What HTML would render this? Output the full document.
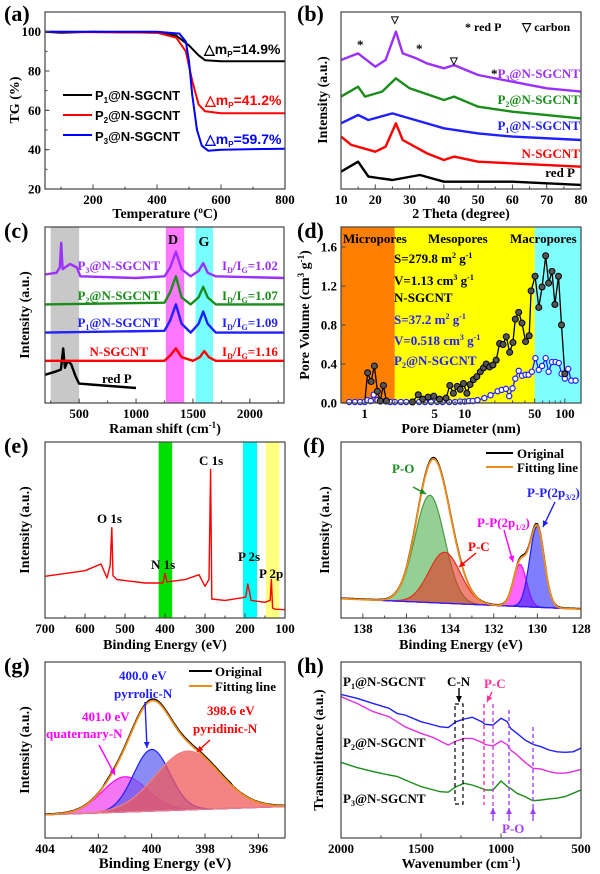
<!DOCTYPE html>
<html><head><meta charset="utf-8"><style>
html,body{margin:0;padding:0;background:#fff;}
svg{display:block;}
text{font-family:"Liberation Serif",serif;font-weight:bold;}
.s{font-family:"Liberation Sans",sans-serif;}
</style></head><body>
<svg id="fig" width="600" height="874" viewBox="0 0 600 874" xmlns="http://www.w3.org/2000/svg">
<g id="bg"></g>
<g id="marks"></g>
<g id="axes"></g>
<g id="labels" font-size="13">
<!-- panel labels -->
<text x="4" y="21" font-size="22">(a)</text>
<text x="297" y="21" font-size="22">(b)</text>
<text x="4" y="238" font-size="22">(c)</text>
<text x="297" y="238" font-size="22">(d)</text>
<text x="4" y="453" font-size="22">(e)</text>
<text x="303" y="453" font-size="22">(f)</text>
<text x="4" y="673" font-size="22">(g)</text>
<text x="297" y="673" font-size="22">(h)</text>
<!-- axis titles -->
<text x="165" y="218" text-anchor="middle" font-size="14">Temperature (<tspan font-size="9" dy="-5">o</tspan><tspan dy="5">C)</tspan></text>
<text transform="rotate(-90 19 100)" x="19" y="100" text-anchor="middle" font-size="14">TG (%)</text>
<text x="461" y="218" text-anchor="middle" font-size="14">2 Theta (degree)</text>
<text transform="rotate(-90 327 100)" x="327" y="100" text-anchor="middle" font-size="14">Intensity (a.u.)</text>
<text x="165" y="433" text-anchor="middle" font-size="14">Raman shift (cm<tspan font-size="9" dy="-5">-1</tspan><tspan dy="5">)</tspan></text>
<text transform="rotate(-90 29 315)" x="29" y="315" text-anchor="middle" font-size="14">Intensity (a.u.)</text>
<text x="461" y="433" text-anchor="middle" font-size="14">Pore Diameter (nm)</text>
<text transform="rotate(-90 309 315)" x="309" y="315" text-anchor="middle" font-size="14">Pore Volume (cm<tspan font-size="9" dy="-5">3</tspan><tspan dy="5"> g</tspan><tspan font-size="9" dy="-5">-1</tspan><tspan dy="5">)</tspan></text>
<text x="165" y="649" text-anchor="middle" font-size="14">Binding Energy (eV)</text>
<text transform="rotate(-90 29 530)" x="29" y="530" text-anchor="middle" font-size="14">Intensity (a.u.)</text>
<text x="461" y="649" text-anchor="middle" font-size="14">Binding Energy (eV)</text>
<text transform="rotate(-90 329 530)" x="329" y="530" text-anchor="middle" font-size="14">Intensity (a.u.)</text>
<text x="165" y="868" text-anchor="middle" font-size="15">Binding Energy (eV)</text>
<text transform="rotate(-90 29 750)" x="29" y="750" text-anchor="middle" font-size="14">Intensity (a.u.)</text>
<text x="461" y="868" text-anchor="middle" font-size="14">Wavenumber (cm<tspan font-size="9" dy="-5">-1</tspan><tspan dy="5">)</tspan></text>
<text transform="rotate(-90 323 750)" x="323" y="750" text-anchor="middle" font-size="14">Transmittance (a.u.)</text>

<!-- (a) legend + annotations -->
<g class="s" font-size="13" font-weight="bold">
<line x1="63" y1="95" x2="92" y2="95" stroke="#000" stroke-width="2"/>
<text x="95" y="100" class="s">P<tspan font-size="8" dy="3">1</tspan><tspan dy="-3">@N-SGCNT</tspan></text>
<line x1="63" y1="115" x2="92" y2="115" stroke="#f00" stroke-width="2"/>
<text x="95" y="120" class="s">P<tspan font-size="8" dy="3">2</tspan><tspan dy="-3">@N-SGCNT</tspan></text>
<line x1="63" y1="135" x2="92" y2="135" stroke="#00f" stroke-width="2"/>
<text x="95" y="141" class="s">P<tspan font-size="8" dy="3">3</tspan><tspan dy="-3">@N-SGCNT</tspan></text>
</g>
<text x="204" y="54" class="s" font-size="14" font-weight="normal" fill="#000">△m<tspan font-size="8" dy="3">P</tspan><tspan dy="-3">=14.9%</tspan></text>
<text x="205" y="105" class="s" font-size="14" font-weight="normal" fill="#f00">△m<tspan font-size="8" dy="3">P</tspan><tspan dy="-3">=41.2%</tspan></text>
<text x="205" y="144" class="s" font-size="14" font-weight="normal" fill="#00f">△m<tspan font-size="8" dy="3">P</tspan><tspan dy="-3">=59.7%</tspan></text>

<!-- (b) -->
<text x="465" y="31" font-size="12">* red P</text>
<text x="522" y="31" font-size="12">▽ carbon</text>
<text x="391" y="23" font-size="10" font-weight="normal">▽</text>
<text x="357" y="49" font-size="13">*</text>
<text x="416" y="53" font-size="13">*</text>
<text x="450" y="64" font-size="10" font-weight="normal">▽</text>
<text x="580" y="78" text-anchor="end" fill="#9b30ff"><tspan fill="#000">*</tspan>P<tspan font-size="8" dy="3">3</tspan><tspan dy="-3">@N-SGCNT</tspan></text>
<text x="580" y="104" text-anchor="end" fill="#1a8c1a">P<tspan font-size="8" dy="3">2</tspan><tspan dy="-3">@N-SGCNT</tspan></text>
<text x="580" y="130" text-anchor="end" fill="#1f1fff">P<tspan font-size="8" dy="3">1</tspan><tspan dy="-3">@N-SGCNT</tspan></text>
<text x="580" y="158" text-anchor="end" fill="#f00">N-SGCNT</text>
<text x="575" y="177" text-anchor="end">red P</text>

<!-- (c) -->
<text x="173" y="244" text-anchor="middle" font-size="14">D</text>
<text x="204" y="246" text-anchor="middle" font-size="14">G</text>
<text x="160" y="270" text-anchor="end" fill="#9b30ff">P<tspan font-size="8" dy="3">3</tspan><tspan dy="-3">@N-SGCNT</tspan></text>
<text x="160" y="300" text-anchor="end" fill="#1a8c1a">P<tspan font-size="8" dy="3">2</tspan><tspan dy="-3">@N-SGCNT</tspan></text>
<text x="160" y="327" text-anchor="end" fill="#1f1fff">P<tspan font-size="8" dy="3">1</tspan><tspan dy="-3">@N-SGCNT</tspan></text>
<text x="148" y="356" text-anchor="end" fill="#f00">N-SGCNT</text>
<text x="102" y="383">red P</text>
<text x="222" y="270" fill="#9b30ff">I<tspan font-size="8" dy="3">D</tspan><tspan dy="-3">/I</tspan><tspan font-size="8" dy="3">G</tspan><tspan dy="-3">=1.02</tspan></text>
<text x="222" y="300" fill="#1a8c1a">I<tspan font-size="8" dy="3">D</tspan><tspan dy="-3">/I</tspan><tspan font-size="8" dy="3">G</tspan><tspan dy="-3">=1.07</tspan></text>
<text x="222" y="327" fill="#1f1fff">I<tspan font-size="8" dy="3">D</tspan><tspan dy="-3">/I</tspan><tspan font-size="8" dy="3">G</tspan><tspan dy="-3">=1.09</tspan></text>
<text x="222" y="356" fill="#f00">I<tspan font-size="8" dy="3">D</tspan><tspan dy="-3">/I</tspan><tspan font-size="8" dy="3">G</tspan><tspan dy="-3">=1.16</tspan></text>

<!-- (d) -->
<text x="343" y="243">Micropores</text>
<text x="428" y="243">Mesopores</text>
<text x="510" y="243">Macropores</text>
<text x="394" y="263">S=279.8 m<tspan font-size="8" dy="-5">2</tspan><tspan dy="5"> g</tspan><tspan font-size="8" dy="-5">-1</tspan></text>
<text x="394" y="285">V=1.13 cm<tspan font-size="8" dy="-5">3</tspan><tspan dy="5"> g</tspan><tspan font-size="8" dy="-5">-1</tspan></text>
<text x="394" y="302">N-SGCNT</text>
<text x="394" y="324" fill="#1f1fff">S=37.2 m<tspan font-size="8" dy="-5">2</tspan><tspan dy="5"> g</tspan><tspan font-size="8" dy="-5">-1</tspan></text>
<text x="394" y="345" fill="#1f1fff">V=0.518 cm<tspan font-size="8" dy="-5">3</tspan><tspan dy="5"> g</tspan><tspan font-size="8" dy="-5">-1</tspan></text>
<text x="394" y="365" fill="#1f1fff">P<tspan font-size="8" dy="3">2</tspan><tspan dy="-3">@N-SGCNT</tspan></text>

<!-- (e) -->
<text x="97" y="523">O 1s</text>
<text x="151" y="569">N 1s</text>
<text x="199" y="465">C 1s</text>
<text x="238" y="561">P 2s</text>
<text x="259" y="578">P 2p</text>

<!-- (f) -->
<line x1="486" y1="453" x2="513" y2="453" stroke="#000" stroke-width="2"/>
<text x="517" y="458">Original</text>
<line x1="486" y1="467" x2="513" y2="467" stroke="#f08c1a" stroke-width="2"/>
<text x="517" y="472">Fitting line</text>
<text x="392" y="473" fill="#1a8c1a">P-O</text>
<text x="468" y="551" fill="#f00">P-C</text>
<text x="477" y="527" fill="#ff00ff">P-P(2p<tspan font-size="8" dy="3">1/2</tspan><tspan dy="-3">)</tspan></text>
<text x="527" y="497" fill="#1f1fff">P-P(2p<tspan font-size="8" dy="3">3/2</tspan><tspan dy="-3">)</tspan></text>

<!-- (g) -->
<line x1="189" y1="671" x2="212" y2="671" stroke="#000" stroke-width="2"/>
<text x="215" y="676">Original</text>
<line x1="189" y1="686" x2="212" y2="686" stroke="#f08c1a" stroke-width="2"/>
<text x="215" y="691">Fitting line</text>
<text x="119" y="680" fill="#1f1fff">400.0 eV</text>
<text x="114" y="698" fill="#1f1fff">pyrrolic-N</text>
<text x="207" y="715" fill="#f00">398.6 eV</text>
<text x="193" y="733" fill="#f00">pyridinic-N</text>
<text x="82" y="721" fill="#ff00ff">401.0 eV</text>
<text x="46" y="738" fill="#ff00ff">quaternary-N</text>

<!-- (h) -->
<text x="343" y="686">P<tspan font-size="8" dy="3">1</tspan><tspan dy="-3">@N-SGCNT</tspan></text>
<text x="343" y="747">P<tspan font-size="8" dy="3">2</tspan><tspan dy="-3">@N-SGCNT</tspan></text>
<text x="343" y="803">P<tspan font-size="8" dy="3">3</tspan><tspan dy="-3">@N-SGCNT</tspan></text>
<text x="447" y="686">C-N</text>
<text x="484" y="688" fill="#ff3399">P-C</text>
<text x="502" y="833" fill="#a040ff">P-O</text>
</g>
</svg>
<script>
// ---------- data ----------
// (a) TGA
const aTempBlack=[50,100,200,400,460,500,530,550,600,800];
const aTGBlack=[100,99.5,100,99.5,98,93,88,85.5,85,85];
const aTempRed=[50,400,460,490,510,530,550,600,800];
const aTGRed=[100,99.5,97,90,75,63,59.5,58.5,58.5];
const aTempBlue=[50,400,470,490,500,510,525,540,560,600,800];
const aTGBlue=[100,100,99,95,85,68,50,42,39.5,40,40.5];
// (b) XRD (arb. units 0-100)
const bTheta=[[10,15,18,25,33,40,60,80],[10,13,20,23,26,28,35,40,43,50,80],[10,15,18,25,30,40,50,60,80],[10,15,17,22,26,30,40,43,50,60,80],[10,15,20,23,26,28,32,35,40,43,50,60,70,80]];
const bInt=[[9.8,15.4,7,5.1,7.9,4.1,4.1,2.3],[29.6,24.9,21.1,23.9,37.1,27.7,20.2,16.4,18.3,15.4,12.6],[37.1,41.8,39,42.7,39.9,34.3,31.4,29.6,27.7],[52.2,57.8,52.2,55,62.5,56.9,50.3,52.2,46.5,43.7,39.9],[72.9,76.6,69.1,72.9,88.9,76.6,73.8,71,68.2,70,64.4,60.6,56.9,55]];
const bColors=["#000","#f00","#1f1fff","#1a8c1a","#9b30ff"];
// (c) Raman
const cShift=[[200,300,340,360,375,400,430,470,500,600,1000],[200,1250,1300,1350,1400,1500,1560,1600,1640,1700,2300],[200,1250,1300,1350,1400,1480,1550,1590,1630,1700,2300],[200,1250,1300,1350,1400,1480,1550,1590,1630,1700,2300],[200,300,330,342,355,420,480,510,1000,1250,1300,1350,1400,1480,1550,1590,1630,1700,2300]];
const cInt=[[16,18,19,31,20,24,22,15,11,10.5,8.5],[24,24,27,31,26,24,26,29.5,26,24,24],[40,41,47,56,45,40,45,52,45,40,40],[56,57,63,72,60,56,60,66,60,56,56],[73,74,77,91,76,79,77,72,71,72,77,86,76,72,75,79.5,74,72,71]];
const cColors=["#000","#f00","#1f1fff","#1a8c1a","#9b30ff"];
// (d) pore size distribution
const dDiamBlack=[0.6,1.0,1.07,1.16,1.25,1.34,1.43,1.54,1.65,2,2.5,3,3.43,3.8,4.3,4.9,5.6,6.5,7.1,7.7,8.4,9.0,9.7,10.5,11.3,12.2,13.2,14.3,15.4,16.4,17.7,19.1,20.6,22.3,24.1,26,28.1,30.3,32,34.6,37.3,40.5,44,46,50.4,54.9,59.2,64.3,68.8,74.4,79.5,86.4,92.6,100];
const dVolBlack=[0,0,0.31,0.22,0.38,0.12,0.02,0.18,0.02,0,0,0.01,0.085,0.04,0.06,0.07,0.04,0.05,0.18,0.1,0.17,0.14,0.2,0.1,0.19,0.24,0.27,0.32,0.36,0.4,0.37,0.39,0.44,0.61,0.6,0.68,0.52,0.62,0.86,0.93,0.82,0.63,0.69,1.15,1.3,0.98,1.19,1.51,1.23,1.35,1.01,1.3,0.8,0.3];
const dDiamBlue=[0.7,0.8,0.9,1.0,1.07,1.15,1.23,1.34,1.45,1.6,1.8,2,2.3,2.6,3,3.5,4,4.6,5.3,6,7,8,9,10,11,12,13.4,15.7,18.1,21.3,23.4,25.8,27.8,30,32,34.6,37.3,40.5,43.4,46.8,50.8,54.9,59.2,64.3,68.8,74.4,80.8,87,92.6,100,108,116,128];
const dVolBlue=[0.01,0.01,0.01,0.01,0.03,0.02,0.085,0.03,0.02,0.02,0.01,0.01,0.01,0.01,0.01,0.01,0.01,0.01,0.01,0.01,0.01,0.01,0.015,0.015,0.02,0.02,0.03,0.05,0.08,0.12,0.135,0.145,0.07,0.15,0.25,0.33,0.28,0.29,0.29,0.32,0.46,0.34,0.38,0.46,0.32,0.42,0.42,0.41,0.3,0.25,0.35,0.23,0.23];
const dTicks=[1,5,10,50,100];
// (e) XPS survey
const eBE=[700,600,560,545,537,533,530,520,450,405,400,395,350,315,300,290,286,283,250,210,198,193,188,185,150,137,134,131,125,100];
const eInt=[23.7,26.9,30.7,22.7,30,51.3,24,21.8,19.9,19.9,25.2,20.5,21.8,24.6,18,22,84.3,10.8,10,11.4,12,19.3,14,10,8.9,10,21.8,5.7,5,4.7];
// (f) P 2p fit components: P-O, P-C, P-P(2p1/2), P-P(2p3/2)
const fCenter=[134.93,134.25,130.8,130.02];
const fAmp=[61,29,24,46];
const fSigma=[0.68,0.72,0.3,0.33];
const fBase=[11,5]; // baseline at 139 and 128
// (g) N 1s components: quaternary, pyrrolic, pyridinic
const gCenter=[401.0,400.0,398.65];
const gAmp=[20,35,33.4];
const gSigma=[0.85,0.68,1.2];
const gBase=[13.2,17.9]; // at 404 and 395
// (h) FTIR
const hWave=[2000,1900,1800,1700,1650,1600,1500,1420,1380,1330,1280,1230,1180,1120,1100,1050,1000,960,940,900,850,800,750,700,650,600,550,500];
const hP1=[81.6,79.4,76.5,73.7,70.8,69.9,66.1,64.2,63.2,62.7,66.1,67.6,68.6,66.1,64.6,64.2,68,66,62.3,59.5,55.7,53.2,51.9,50,49,48.7,49,51];
const hP2=[80.3,76.5,71.8,68.9,66.1,63.2,59.5,57,55.1,52.8,55.1,56.6,56.6,54.4,53.2,52.3,55.1,53,50,47.2,43,39.6,39.2,37.7,36.8,36.8,37.7,39];
const hP3=[43,40,37.7,35.8,35,33,29.2,27.3,26.3,26,29.2,31.1,30.1,28.2,27.3,27.3,32.4,29.2,28.2,25.4,23.5,21.2,21.6,22.2,22.6,23.5,25.4,27.3];

// ---------- helpers ----------
const NS="http://www.w3.org/2000/svg";
const G={bg:document.getElementById('bg'),m:document.getElementById('marks'),ax:document.getElementById('axes')};
function mk(tag,attrs,parent){const e=document.createElementNS(NS,tag);for(const k in attrs)e.setAttribute(k,attrs[k]);parent.appendChild(e);return e;}
function panel(x0,x1,y0,y1,a,b,c,d,log){
  const p={x0,x1,y0,y1};
  p.sx=log?(v=>x0+(Math.log10(v)-Math.log10(a))/(Math.log10(b)-Math.log10(a))*(x1-x0)):(v=>x0+(v-a)/(b-a)*(x1-x0));
  p.sy=v=>y1-(v-c)/(d-c)*(y1-y0);
  return p;
}
const PA=panel(45,285,12,189,50,800,20,110);
const PB=panel(341,581,12,189,10,80,0,100);
const PC=panel(45,284,227,403,200,2300,0,100);
const PD=panel(341,581,227,403,0.58,145,0,1.805,true);
const PE=panel(45,285,442,618,700,100,0,100);
const PF=panel(341,581,442,618,139,128,0,100);
const PG=panel(45,285,662,838,404,395,0,100);
const PH=panel(341,581,662,838,2000,500,0,100);

function pathD(p,xs,ys){return xs.map((x,i)=>(i?'L':'M')+p.sx(x).toFixed(1)+' '+p.sy(ys[i]).toFixed(1)).join(' ');}
function line(p,xs,ys,color,w,name){
  const e=mk('path',{d:pathD(p,xs,ys),fill:'none',stroke:color,'stroke-width':w,'stroke-linejoin':'round'},G.m);
  
  
  return e;
}
function rect(x,y,w,h,fill,name){
  const e=mk('rect',{x,y,width:w,height:h,fill},G.bg);
  
  
}
function band(p,a,b,fill,name){const xa=p.sx(a),xb=p.sx(b);rect(Math.min(xa,xb),p.y0,Math.abs(xb-xa),p.y1-p.y0,fill,name);}
function axes(p,xt,xl,minor,yt,yl,name){
  const g=mk('g',{},G.ax);
  
  
  mk('rect',{x:p.x0,y:p.y0,width:p.x1-p.x0,height:p.y1-p.y0,fill:'none',stroke:'#444','stroke-width':1.2},g);
  (minor||[]).forEach(v=>{const x=p.sx(v);mk('line',{x1:x,x2:x,y1:p.y1,y2:p.y1-2.5,stroke:'#444'},g);});
  xt.forEach((v,i)=>{const x=p.sx(v);mk('line',{x1:x,x2:x,y1:p.y1,y2:p.y1-4.5,stroke:'#444'},g);
    const t=mk('text',{x:x,y:p.y1+15,'text-anchor':'middle','font-size':13},g);t.textContent=xl[i];
    
    });
  (yt||[]).forEach((v,i)=>{const y=p.sy(v);mk('line',{x1:p.x0,x2:p.x0+4.5,y1:y,y2:y,stroke:'#444'},g);
    const t=mk('text',{x:p.x0-4,y:y+4.5,'text-anchor':'end','font-size':13},g);t.textContent=yl[i];
    
    });
}
function range(a,b,s){const r=[];for(let v=a;s>0?v<=b+1e-9:v>=b-1e-9;v+=s)r.push(+v.toFixed(4));return r;}

// ---------- (a) ----------
line(PA,aTempBlack,aTGBlack,'#000',2,'tga-p1');
line(PA,aTempRed,aTGRed,'#f00',2,'tga-p2');
line(PA,aTempBlue,aTGBlue,'#00f',2,'tga-p3');
axes(PA,[200,400,600,800],['200','400','600','800'],range(100,800,100),[20,40,60,80,100],['20','40','60','80','100'],'a-axes');
range(30,100,10).forEach(v=>mk('line',{x1:PA.x0,x2:PA.x0+2.5,y1:PA.sy(v),y2:PA.sy(v),stroke:'#444'},G.ax));

// ---------- (b) ----------
const bNames=['xrd-redp','xrd-nsgcnt','xrd-p1','xrd-p2','xrd-p3'];
bTheta.forEach((xs,i)=>line(PB,xs,bInt[i],bColors[i],2.4,bNames[i]));
axes(PB,range(10,80,10),range(10,80,10).map(String),range(15,75,10),null,null,'b-axes');

// ---------- (c) ----------
band(PC,250,500,'#c8c8c8','redp-band');
band(PC,1262,1423,'#ff77ff','d-band');
band(PC,1523,1676,'#77ffff','g-band');
const cNames=['raman-redp','raman-nsgcnt','raman-p1','raman-p2','raman-p3'];
cShift.forEach((xs,i)=>line(PC,xs,cInt[i],cColors[i],2.4,cNames[i]));
axes(PC,[500,1000,1500,2000],['500','1000','1500','2000'],range(250,2250,250),null,null,'c-axes');

// ---------- (d) ----------
band(PD,0.58,2,'#ff8000','micropore-region');
band(PD,2,50,'#ffff00','mesopore-region');
band(PD,50,145,'#80ffff','macropore-region');
line(PD,dDiamBlue,dVolBlue,'#1f1fff',1.3,'psd-p2');
line(PD,dDiamBlack,dVolBlack,'#000',1.3,'psd-nsgcnt');
dDiamBlue.forEach((x,i)=>{const c=mk('circle',{cx:PD.sx(x),cy:PD.sy(dVolBlue[i]),r:2.6,fill:'#fff',stroke:'#1f1fff','stroke-width':1.2},G.m);
  
  });
dDiamBlack.forEach((x,i)=>{if(dVolBlack[i]<=0.005)return;const c=mk('circle',{cx:PD.sx(x),cy:PD.sy(dVolBlack[i]),r:3,fill:'#555',stroke:'#000','stroke-width':1},G.m);
  
  });
axes(PD,dTicks,dTicks.map(String),[2,3,4,6,7,8,9,20,30,40,60,70,80,90],[0,0.4,0.8,1.2,1.6],['0.0','0.4','0.8','1.2','1.6'],'d-axes');

// ---------- (e) ----------
band(PE,416,382,'#00e000','n1s-band');
band(PE,205,170,'#00ffff','p2s-band');
band(PE,148,114,'#ffff80','p2p-band');
line(PE,eBE,eInt,'#f00',1.4,'xps-survey');
axes(PE,range(700,100,-100),range(700,100,-100).map(String),range(650,150,-100),null,null,'e-axes');

// ---------- gaussian fits ----------
function fitPanel(p,lo,hi,centers,amps,sigmas,base,fills,strokes,prefix){
  const N=160,xs=[];for(let i=0;i<=N;i++)xs.push(lo+(hi-lo)*i/N);
  const bl=x=>base[0]+(base[1]-base[0])*(x-lo)/(hi-lo);
  const comp=(k,x)=>amps[k]*Math.exp(-((x-centers[k])**2)/(2*sigmas[k]**2));
  centers.forEach((c,k)=>{
    const top=xs.map(x=>bl(x)+comp(k,x));
    let d=pathD(p,xs,top);
    d+=' '+xs.slice().reverse().map(x=>'L'+p.sx(x).toFixed(1)+' '+p.sy(bl(x)).toFixed(1)).join(' ')+'Z';
    const e=mk('path',{d,fill:fills[k],stroke:strokes[k],'stroke-width':1.2},G.m);
    
    
  });
  const sum=xs.map(x=>bl(x)+centers.reduce((s,c,k)=>s+comp(k,x),0));
  line(p,xs,sum.map(v=>v+(v>30?0.8:0.3)),'#000',1.6,prefix+'-original');
  line(p,xs,sum,'#f08c1a',1.8,prefix+'-fitting-line');
}
fitPanel(PF,139,128,fCenter,fAmp,fSigma,fBase,['rgba(60,170,60,0.55)','rgba(230,50,30,0.6)','rgba(255,0,255,0.6)','rgba(40,40,255,0.6)'],['#4a9a4a','#e03020','#ff00ff','#1f1fff'],'p2p');
axes(PF,range(138,128,-2),range(138,128,-2).map(String),range(137,129,-2),null,null,'f-axes');

fitPanel(PG,404,395,gCenter,gAmp,gSigma,gBase,['rgba(240,60,240,0.7)','rgba(90,90,240,0.7)','rgba(240,90,90,0.75)'],['#ff00ff','#1f1fff','#f08080'],'n1s');
axes(PG,[404,402,400,398,396],['404','402','400','398','396'],[403,401,399,397,395],null,null,'g-axes');

// ---------- (h) ----------
line(PH,hWave,hP1,'#1f1fff',1.4,'ftir-p1');
line(PH,hWave,hP2,'#e030e0',1.4,'ftir-p2');
line(PH,hWave,hP3,'#1a8c1a',1.4,'ftir-p3');
axes(PH,[2000,1500,1000,500],['2000','1500','1000','500'],[1750,1250,750],null,null,'h-axes');

// ---------- annotation lines/arrows ----------
function seg(x1,y1,x2,y2,color,dash,name){
  const e=mk('line',{x1,y1,x2,y2,stroke:color,'stroke-width':1.4,'stroke-dasharray':dash||'none'},G.ax);
  
  
}
function arrow(x1,y1,x2,y2,color,name){
  seg(x1,y1,x2,y2,color,null,name);
  const a=Math.atan2(y2-y1,x2-x1),L=6,W=3;
  const p=[[x2,y2],[x2-L*Math.cos(a)+W*Math.sin(a),y2-L*Math.sin(a)-W*Math.cos(a)],[x2-L*Math.cos(a)-W*Math.sin(a),y2-L*Math.sin(a)+W*Math.cos(a)]];
  const e=mk('polygon',{points:p.map(q=>q.join(',')).join(' '),fill:color},G.ax);
  
  
}
arrow(413,487,426,494,'#1a8c1a','po-arrow');
arrow(476,553,459,567,'#f00','pc-arrow');
arrow(504,530,513,562,'#ff00ff','pp12-arrow');
arrow(555,502,543,527,'#1f1fff','pp32-arrow');
arrow(145,702,147,748,'#1f1fff','pyrrolic-arrow');
arrow(210,740,197,752,'#f00','pyridinic-arrow');
arrow(99,745,115,775,'#ff00ff','quaternary-arrow');
// FTIR dashed markers
const cnBox=mk('rect',{x:455,y:704,width:8,height:100,fill:'none',stroke:'#000','stroke-dasharray':'4,3','stroke-width':1.2},G.ax);


arrow(459,688,459,702,'#000','cn-arrow');
seg(484,704,484,805,'#ff3399','4,3','pc-dashed-line');
seg(493,704,493,808,'#cc44ee','4,3','pc-dashed-line');
seg(509,710,509,808,'#a040ff','4,3','po-dashed-line');
seg(533,727,533,808,'#a040ff','4,3','po-dashed-line');
arrow(492,692,487,702,'#ff3399','h-pc-arrow');
[493,509,533].forEach(x=>arrow(x,821,x,808,'#a040ff','po-arrow-up'));
</script>
</body></html>
